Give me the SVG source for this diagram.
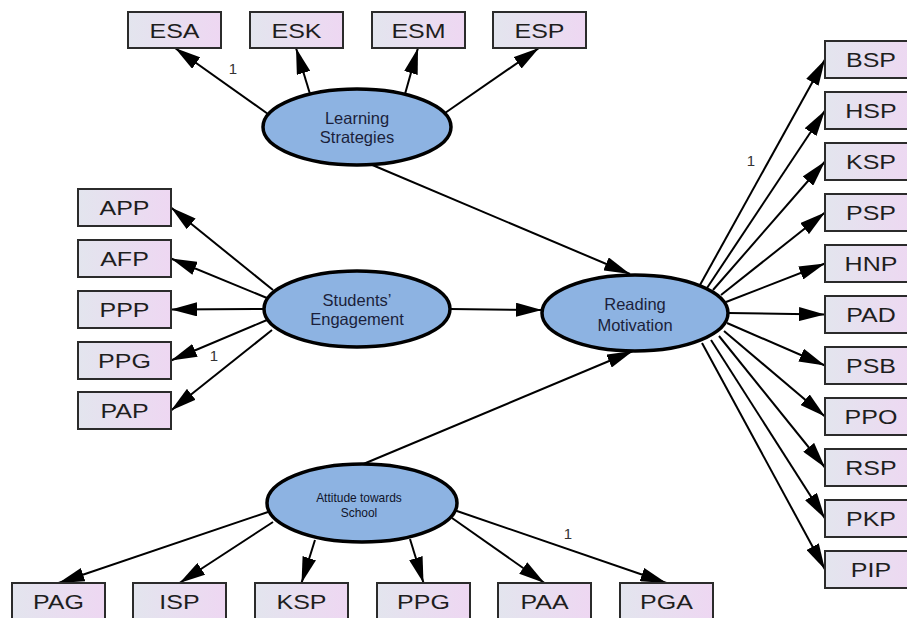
<svg xmlns="http://www.w3.org/2000/svg" width="907" height="618" viewBox="0 0 907 618">
<style>
.box{fill:url(#bg);stroke:#2b2b2b;stroke-width:2}
.bl{font-family:"Liberation Sans",Arial,sans-serif;font-size:20px;fill:#1e1e1e;text-anchor:middle}
.lat{fill:#8db3e2;stroke:#000;stroke-width:3.5}
.lt{font-family:"Liberation Sans",Arial,sans-serif;font-size:16.5px;fill:#1b1f3b;text-anchor:middle}
.st{font-family:"Liberation Sans",Arial,sans-serif;font-size:13px;fill:#10142a;text-anchor:middle}
.cn line{stroke:#000;stroke-width:2;marker-end:url(#ah)}
.w{font-family:"Liberation Sans",Arial,sans-serif;font-size:15px;fill:#333;text-anchor:middle}
</style>
<defs>
<linearGradient id="bg" x1="0" y1="0" x2="1" y2="0">
<stop offset="0" stop-color="#e3e5ee"/>
<stop offset="1" stop-color="#eed7f2"/>
</linearGradient>
<marker id="ah" markerUnits="userSpaceOnUse" markerWidth="26" markerHeight="14" refX="26" refY="7" orient="auto">
<path d="M0,0 L26,7 L0,14 z" fill="#000"/>
</marker>
</defs>
<rect width="907" height="618" fill="#fff"/>
<g id="connectors" class="cn">
<line x1="268" y1="114" x2="175" y2="48"/>
<line x1="310" y1="94" x2="296" y2="48"/>
<line x1="405" y1="94" x2="418" y2="48"/>
<line x1="445" y1="113" x2="539" y2="48"/>
<line x1="370" y1="164" x2="630" y2="274"/>
<line x1="273" y1="290" x2="171" y2="207.5"/>
<line x1="267" y1="298" x2="171" y2="258.5"/>
<line x1="265" y1="309" x2="171" y2="309.5"/>
<line x1="267" y1="320" x2="171" y2="360.5"/>
<line x1="272" y1="330" x2="171" y2="410.5"/>
<line x1="450" y1="309" x2="542" y2="310"/>
<line x1="361" y1="465" x2="633" y2="351"/>
<line x1="700" y1="285" x2="825" y2="59.5"/>
<line x1="707" y1="288" x2="825" y2="110.5"/>
<line x1="713" y1="290" x2="825" y2="161.5"/>
<line x1="721" y1="295" x2="825" y2="212.5"/>
<line x1="726" y1="302" x2="825" y2="263.5"/>
<line x1="728" y1="313" x2="825" y2="314.5"/>
<line x1="727" y1="323" x2="825" y2="365.5"/>
<line x1="724" y1="331" x2="825" y2="416.5"/>
<line x1="719" y1="336" x2="825" y2="467.5"/>
<line x1="711" y1="340" x2="825" y2="518.5"/>
<line x1="702" y1="343" x2="825" y2="569.5"/>
<line x1="268" y1="512" x2="58.5" y2="583"/>
<line x1="273" y1="522" x2="179.5" y2="583"/>
<line x1="315" y1="540" x2="301.5" y2="583"/>
<line x1="410" y1="539" x2="423.5" y2="583"/>
<line x1="452" y1="518" x2="544.5" y2="583"/>
<line x1="454" y1="510" x2="666.5" y2="583"/>
</g>
<g id="weights">
<text class="w" x="233" y="74">1</text>
<text class="w" x="214" y="361">1</text>
<text class="w" x="751" y="166">1</text>
<text class="w" x="568" y="539">1</text>
</g>
<g id="LS"><ellipse class="lat" cx="357" cy="127" rx="94" ry="38"/><text class="lt" x="357" y="124">Learning</text><text class="lt" x="357" y="143">Strategies</text></g>
<g id="SE"><ellipse class="lat" cx="357" cy="309" rx="93" ry="38"/><text class="lt" x="357" y="306">Students’</text><text class="lt" x="357" y="325">Engagement</text></g>
<g id="RM"><ellipse class="lat" cx="635" cy="313" rx="93" ry="38"/><text class="lt" x="635" y="310">Reading</text><text class="lt" x="635" y="331">Motivation</text></g>
<g id="AS"><ellipse class="lat" cx="362" cy="503" rx="95" ry="39"/><text class="st" transform="translate(359,502) scale(0.92,1)">Attitude towards</text><text class="st" transform="translate(359,517) scale(0.92,1)">School</text></g>
<g id="ESA"><rect class="box" x="128" y="12" width="93" height="36"/><text class="bl" transform="translate(174.5,38) scale(1.25,1)">ESA</text></g>
<g id="ESK"><rect class="box" x="250" y="12" width="93" height="36"/><text class="bl" transform="translate(296.5,38) scale(1.25,1)">ESK</text></g>
<g id="ESM"><rect class="box" x="372" y="12" width="93" height="36"/><text class="bl" transform="translate(418.5,38) scale(1.25,1)">ESM</text></g>
<g id="ESP"><rect class="box" x="493" y="12" width="93" height="36"/><text class="bl" transform="translate(539.5,38) scale(1.25,1)">ESP</text></g>
<g id="APP"><rect class="box" x="78" y="189" width="93" height="37"/><text class="bl" transform="translate(124.5,215) scale(1.25,1)">APP</text></g>
<g id="AFP"><rect class="box" x="78" y="240" width="93" height="37"/><text class="bl" transform="translate(124.5,266) scale(1.25,1)">AFP</text></g>
<g id="PPP"><rect class="box" x="78" y="291" width="93" height="37"/><text class="bl" transform="translate(124.5,317) scale(1.25,1)">PPP</text></g>
<g id="PPG1"><rect class="box" x="78" y="342" width="93" height="37"/><text class="bl" transform="translate(124.5,368) scale(1.25,1)">PPG</text></g>
<g id="PAP"><rect class="box" x="78" y="392" width="93" height="37"/><text class="bl" transform="translate(124.5,418) scale(1.25,1)">PAP</text></g>
<g id="BSP"><rect class="box" x="825" y="41" width="93" height="37"/><text class="bl" transform="translate(871,67) scale(1.25,1)">BSP</text></g>
<g id="HSP"><rect class="box" x="825" y="92" width="93" height="37"/><text class="bl" transform="translate(871,118) scale(1.25,1)">HSP</text></g>
<g id="KSP1"><rect class="box" x="825" y="143" width="93" height="37"/><text class="bl" transform="translate(871,169) scale(1.25,1)">KSP</text></g>
<g id="PSP"><rect class="box" x="825" y="194" width="93" height="37"/><text class="bl" transform="translate(871,220) scale(1.25,1)">PSP</text></g>
<g id="HNP"><rect class="box" x="825" y="245" width="93" height="37"/><text class="bl" transform="translate(871,271) scale(1.25,1)">HNP</text></g>
<g id="PAD"><rect class="box" x="825" y="296" width="93" height="37"/><text class="bl" transform="translate(871,322) scale(1.25,1)">PAD</text></g>
<g id="PSB"><rect class="box" x="825" y="347" width="93" height="37"/><text class="bl" transform="translate(871,373) scale(1.25,1)">PSB</text></g>
<g id="PPO"><rect class="box" x="825" y="398" width="93" height="37"/><text class="bl" transform="translate(871,424) scale(1.25,1)">PPO</text></g>
<g id="RSP"><rect class="box" x="825" y="449" width="93" height="37"/><text class="bl" transform="translate(871,475) scale(1.25,1)">RSP</text></g>
<g id="PKP"><rect class="box" x="825" y="500" width="93" height="37"/><text class="bl" transform="translate(871,526) scale(1.25,1)">PKP</text></g>
<g id="PIP"><rect class="box" x="825" y="551" width="93" height="37"/><text class="bl" transform="translate(871,577) scale(1.25,1)">PIP</text></g>
<g id="PAG"><rect class="box" x="12" y="583" width="93" height="37"/><text class="bl" transform="translate(58.5,609) scale(1.25,1)">PAG</text></g>
<g id="ISP"><rect class="box" x="133" y="583" width="93" height="37"/><text class="bl" transform="translate(179.5,609) scale(1.25,1)">ISP</text></g>
<g id="KSP2"><rect class="box" x="255" y="583" width="93" height="37"/><text class="bl" transform="translate(301.5,609) scale(1.25,1)">KSP</text></g>
<g id="PPG2"><rect class="box" x="377" y="583" width="93" height="37"/><text class="bl" transform="translate(423.5,609) scale(1.25,1)">PPG</text></g>
<g id="PAA"><rect class="box" x="498" y="583" width="93" height="37"/><text class="bl" transform="translate(544.5,609) scale(1.25,1)">PAA</text></g>
<g id="PGA"><rect class="box" x="620" y="583" width="93" height="37"/><text class="bl" transform="translate(666.5,609) scale(1.25,1)">PGA</text></g>
</svg>
